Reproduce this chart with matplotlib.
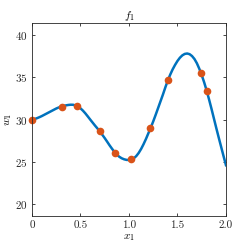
import numpy as np
import matplotlib
matplotlib.use("Agg")
from matplotlib import pyplot as plt

plt.rcParams['font.family'] = 'serif'
plt.rcParams['font.serif'] = ['cmr10']
plt.rcParams['mathtext.fontset'] = 'cm'
plt.rcParams['axes.formatter.use_mathtext'] = True

# curve, every 0.025
curve_x = np.linspace(0, 2.0, 81)
curve_y = [30.00, 30.06, 30.15, 30.27, 30.40, 30.55, 30.70, 30.85, 31.00, 31.15,
           31.30, 31.42, 31.52, 31.60, 31.67, 31.72, 31.75, 31.74, 31.66, 31.52,
           31.32, 31.05, 30.73, 30.37, 30.00, 29.64, 29.28, 28.94, 28.60, 28.20,
           27.80, 27.38, 26.95, 26.55, 26.17, 25.85, 25.60, 25.42, 25.30, 25.23,
           25.22, 25.28, 25.42, 25.68, 26.05, 26.52, 27.08, 27.70, 28.38, 29.05,
           29.78, 30.55, 31.35, 32.15, 32.95, 33.80, 34.60, 35.30, 35.92, 36.45,
           36.92, 37.30, 37.58, 37.75, 37.80, 37.72, 37.50, 37.15, 36.65, 36.00,
           35.25, 34.40, 33.45, 32.40, 31.30, 30.15, 29.00, 27.88, 26.78, 25.68,
           24.60]

# sample points
pts_x = [0.0, 0.31, 0.46, 0.70, 0.86, 1.02, 1.22, 1.40, 1.74, 1.80]
pts_y = [30.0, 31.5, 31.6, 28.7, 26.0, 25.3, 29.0, 34.7, 35.5, 33.4]

xticks = [0, 0.5, 1.0, 1.5, 2.0]
xticklabels = ['0', '0.5', '1.0', '1.5', '2.0']
yticks = [20, 25, 30, 35, 40]

fig = plt.figure(figsize=(2.49, 2.49), dpi=100)
ax = fig.add_axes([0.1285, 0.1325, 0.779, 0.775])

ax.plot(curve_x, curve_y, color='#0072BD', lw=1.8)
ax.plot(pts_x, pts_y, 'o', color='#D95319', ms=5.5, mec='none', clip_on=False)

ax.set_xlim(0, 2)
ax.set_ylim(18.6, 41.4)
ax.set_xticks(xticks)
ax.set_xticklabels(xticklabels)
ax.set_yticks(yticks)
ax.tick_params(direction='in', top=True, right=True, length=2.5, width=0.6,
               labelsize=8, colors='#262626', pad=3)
for s in ax.spines.values():
    s.set_linewidth(0.6)
    s.set_color('#262626')

ax.set_title('$f_1$', fontsize=8, pad=3)
ax.set_xlabel('$x_1$', fontsize=8, labelpad=2)
ax.set_ylabel('$w_1$', fontsize=8, labelpad=1)

fig.savefig('out.png', dpi=100)
